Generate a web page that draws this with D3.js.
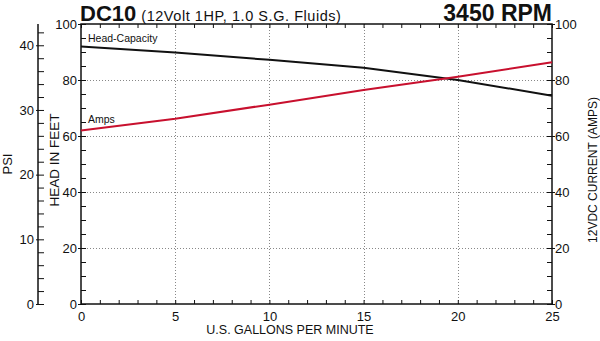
<!DOCTYPE html>
<html>
<head>
<meta charset="utf-8">
<script src="https://cdn.jsdelivr.net/npm/d3@7"></script>
<style>
  body { margin: 0; background: #fff; }
  text { font-family: "Liberation Sans", Arial, Helvetica, sans-serif; fill: #111; }
</style>
</head>
<body>
<script>
// chart data ------------------------------------------------------------
var gpm = [0, 5, 10, 15, 20, 25];
var headFeet = [92, 89.8, 87.2, 84.4, 80, 74.4];
var ampsDraw = [62, 66.2, 71.2, 76.4, 81.2, 86.3];
var xTicks = [0, 5, 10, 15, 20, 25];
var headTicks = [0, 20, 40, 60, 80, 100];
var ampTicks = [0, 20, 40, 60, 80, 100];
var psiTicks = [0, 10, 20, 30, 40];

var width = 600, height = 341;
// plot box (note: "top" is a reserved window prop, so use pTop etc)
var pLeft = 81, pRight = 552, pTop = 24, pBottom = 304;
var FT_PER_PSI = 2.31;

var svg = d3.select("body").append("svg")
  .attr("width", width)
  .attr("height", height);

var x = d3.scaleLinear().domain([0, 25]).range([pLeft, pRight]);
var yHead = d3.scaleLinear().domain([0, 100]).range([pBottom, pTop]);
var yAmps = d3.scaleLinear().domain([0, 100]).range([pBottom, pTop]);
var yPsi = d3.scaleLinear().domain([0, 100 / FT_PER_PSI]).range([pBottom, pTop]);

//grid--------------------------------------------------------------------
var grid = svg.append("g")
  .attr("stroke", "#888")
  .attr("stroke-width", 1)
  .attr("stroke-dasharray", "1,2");

grid.selectAll(".vgrid")
  .data(xTicks.slice(1, -1))
  .enter().append("line")
  .attr("x1", function(d) { return Math.round(x(d)) + 0.5; })
  .attr("x2", function(d) { return Math.round(x(d)) + 0.5; })
  .attr("y1", pTop)
  .attr("y2", pBottom);

grid.selectAll(".hgrid")
  .data(headTicks.slice(1, -1))
  .enter().append("line")
  .attr("x1", pLeft)
  .attr("x2", pRight)
  .attr("y1", function(d) { return Math.round(yHead(d)) + 0.5; })
  .attr("y2", function(d) { return Math.round(yHead(d)) + 0.5; });

//axes--------------------------------------------------------------------
function cleanAxis(g) {
  g.select(".domain").remove();
  g.selectAll("line").attr("stroke", "#111");
  g.selectAll("text").style("font-size", "13px").attr("fill", "#111");
}

// minor ticks, drawn inward
var xMinor = d3.range(0, 26, 1);
svg.append("g")
  .attr("transform", "translate(0," + pBottom + ")")
  .call(d3.axisBottom(x).tickValues(xMinor).tickSize(-4).tickFormat(""))
  .call(cleanAxis);
svg.append("g")
  .attr("transform", "translate(0," + pTop + ")")
  .call(d3.axisTop(x).tickValues(xMinor).tickSize(-4).tickFormat(""))
  .call(cleanAxis);

// x labels
svg.append("g")
  .attr("transform", "translate(0," + pBottom + ")")
  .call(d3.axisBottom(x).tickValues(xTicks).tickSize(0).tickPadding(8))
  .call(cleanAxis);

// head axis (left)
svg.append("g")
  .attr("transform", "translate(" + pLeft + ",0)")
  .call(d3.axisRight(yHead).tickValues(d3.range(0, 101, 5)).tickSize(5).tickFormat(""))
  .call(cleanAxis);
svg.append("g")
  .attr("transform", "translate(" + pLeft + ",0)")
  .call(d3.axisLeft(yHead).tickValues(headTicks).tickSize(3).tickPadding(1))
  .call(cleanAxis);

// amps axis (right)
svg.append("g")
  .attr("transform", "translate(" + pRight + ",0)")
  .call(d3.axisLeft(yAmps).tickValues(d3.range(0, 101, 5)).tickSize(5).tickFormat(""))
  .call(cleanAxis);
svg.append("g")
  .attr("transform", "translate(" + pRight + ",0)")
  .call(d3.axisRight(yAmps).tickValues(ampTicks).tickSize(3).tickPadding(0))
  .call(cleanAxis);

// psi axis (far left)
var psiX = 38;
svg.append("line")
  .attr("x1", psiX).attr("x2", psiX)
  .attr("y1", pTop).attr("y2", pBottom)
  .attr("stroke", "#111").attr("stroke-width", 1.5);
svg.append("g")
  .attr("transform", "translate(" + psiX + ",0)")
  .call(d3.axisRight(yPsi).tickValues(d3.range(0, 44, 2)).tickSize(6).tickFormat(""))
  .call(cleanAxis);
svg.append("g")
  .attr("transform", "translate(" + psiX + ",0)")
  .call(d3.axisLeft(yPsi).tickValues(psiTicks).tickSize(2).tickPadding(2))
  .call(cleanAxis);

// plot frame
svg.append("rect")
  .attr("x", pLeft).attr("y", pTop)
  .attr("width", pRight - pLeft).attr("height", pBottom - pTop)
  .attr("fill", "none")
  .attr("stroke", "#111")
  .attr("stroke-width", 1.5);

//curves------------------------------------------------------------------
var headLine = d3.line()
  .x(function(d, i) { return x(gpm[i]); })
  .y(function(d) { return yHead(d); });
var ampLine = d3.line()
  .x(function(d, i) { return x(gpm[i]); })
  .y(function(d) { return yAmps(d); });

svg.append("path")
  .attr("d", headLine(headFeet))
  .attr("fill", "none")
  .attr("stroke", "#111")
  .attr("stroke-width", 2);

svg.append("path")
  .attr("d", ampLine(ampsDraw))
  .attr("fill", "none")
  .attr("stroke", "#c8102e")
  .attr("stroke-width", 2);

svg.append("text")
  .attr("x", x(0) + 7).attr("y", yHead(headFeet[0]) - 4)
  .style("font-size", "10.5px")
  .text("Head-Capacity");
svg.append("text")
  .attr("x", x(0) + 7).attr("y", yAmps(ampsDraw[0]) - 7)
  .style("font-size", "10.5px")
  .text("Amps");

//titles------------------------------------------------------------------
var title = svg.append("text")
  .attr("x", pLeft - 1).attr("y", 21);
title.append("tspan")
  .style("font-size", "22px").style("font-weight", "bold")
  .text("DC10");
title.append("tspan")
  .attr("dx", 5)
  .style("font-size", "14.5px")
  .style("letter-spacing", "0.55px")
  .text("(12Volt 1HP, 1.0 S.G. Fluids)");

svg.append("text")
  .attr("x", pRight).attr("y", 21)
  .attr("text-anchor", "end")
  .style("font-size", "23px").style("font-weight", "bold")
  .text("3450 RPM");

svg.append("text")
  .attr("x", 290).attr("y", 334)
  .attr("text-anchor", "middle")
  .style("font-size", "12.5px")
  .text("U.S. GALLONS PER MINUTE");

function vTitle(tx, ty, label, size) {
  svg.append("text")
    .attr("transform", "translate(" + tx + "," + ty + ") rotate(-90)")
    .attr("text-anchor", "middle")
    .style("font-size", size)
    .text(label);
}
vTitle(12, 164, "PSI", "13px");
vTitle(59, 160, "HEAD IN FEET", "13.5px");
vTitle(597, 170, "12VDC CURRENT (AMPS)", "12px");
</script>
</body>
</html>
